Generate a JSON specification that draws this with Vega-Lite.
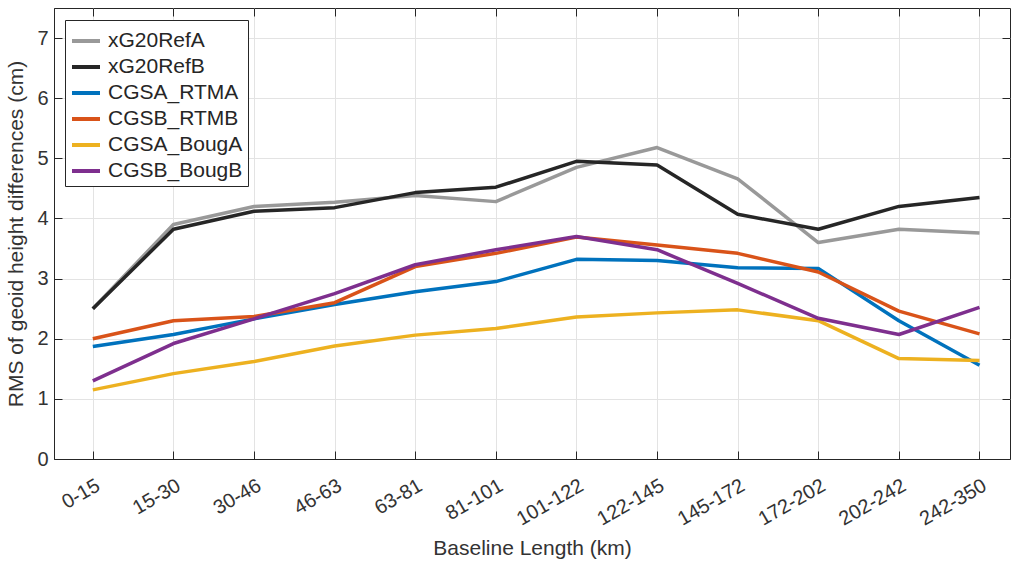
{
  "$schema": "https://vega.github.io/schema/vega-lite/v6.json",
  "autosize": {"type": "none"},
  "padding": {"left": 54, "top": 8, "right": 3, "bottom": 104},
  "width": 956,
  "height": 451,
  "background": "white",
  "config": {
    "font": "Liberation Sans",
    "view": {"stroke": "#262626", "strokeWidth": 1},
    "axis": {
      "labelFont": "Liberation Sans",
      "titleFont": "Liberation Sans",
      "labelColor": "#333333",
      "titleColor": "#333333",
      "labelFontSize": 20,
      "titleFontSize": 21,
      "titleFontWeight": "normal",
      "domainColor": "#262626",
      "tickColor": "#262626",
      "gridColor": "#e3e3e3",
      "gridWidth": 1
    }
  },
  "data": {
    "values": [
      {"band": "0-15", "series": "xG20RefA", "rms": 2.5},
      {"band": "15-30", "series": "xG20RefA", "rms": 3.9},
      {"band": "30-46", "series": "xG20RefA", "rms": 4.2},
      {"band": "46-63", "series": "xG20RefA", "rms": 4.27},
      {"band": "63-81", "series": "xG20RefA", "rms": 4.38},
      {"band": "81-101", "series": "xG20RefA", "rms": 4.28},
      {"band": "101-122", "series": "xG20RefA", "rms": 4.85},
      {"band": "122-145", "series": "xG20RefA", "rms": 5.18},
      {"band": "145-172", "series": "xG20RefA", "rms": 4.66},
      {"band": "172-202", "series": "xG20RefA", "rms": 3.6},
      {"band": "202-242", "series": "xG20RefA", "rms": 3.82},
      {"band": "242-350", "series": "xG20RefA", "rms": 3.76},
      {"band": "0-15", "series": "xG20RefB", "rms": 2.5},
      {"band": "15-30", "series": "xG20RefB", "rms": 3.82},
      {"band": "30-46", "series": "xG20RefB", "rms": 4.12},
      {"band": "46-63", "series": "xG20RefB", "rms": 4.18},
      {"band": "63-81", "series": "xG20RefB", "rms": 4.43},
      {"band": "81-101", "series": "xG20RefB", "rms": 4.52},
      {"band": "101-122", "series": "xG20RefB", "rms": 4.95},
      {"band": "122-145", "series": "xG20RefB", "rms": 4.89},
      {"band": "145-172", "series": "xG20RefB", "rms": 4.07},
      {"band": "172-202", "series": "xG20RefB", "rms": 3.82},
      {"band": "202-242", "series": "xG20RefB", "rms": 4.2},
      {"band": "242-350", "series": "xG20RefB", "rms": 4.35},
      {"band": "0-15", "series": "CGSA_RTMA", "rms": 1.87},
      {"band": "15-30", "series": "CGSA_RTMA", "rms": 2.07},
      {"band": "30-46", "series": "CGSA_RTMA", "rms": 2.33},
      {"band": "46-63", "series": "CGSA_RTMA", "rms": 2.57},
      {"band": "63-81", "series": "CGSA_RTMA", "rms": 2.78},
      {"band": "81-101", "series": "CGSA_RTMA", "rms": 2.95},
      {"band": "101-122", "series": "CGSA_RTMA", "rms": 3.32},
      {"band": "122-145", "series": "CGSA_RTMA", "rms": 3.3},
      {"band": "145-172", "series": "CGSA_RTMA", "rms": 3.18},
      {"band": "172-202", "series": "CGSA_RTMA", "rms": 3.17},
      {"band": "202-242", "series": "CGSA_RTMA", "rms": 2.3},
      {"band": "242-350", "series": "CGSA_RTMA", "rms": 1.56},
      {"band": "0-15", "series": "CGSB_RTMB", "rms": 2.0},
      {"band": "15-30", "series": "CGSB_RTMB", "rms": 2.3},
      {"band": "30-46", "series": "CGSB_RTMB", "rms": 2.37},
      {"band": "46-63", "series": "CGSB_RTMB", "rms": 2.6},
      {"band": "63-81", "series": "CGSB_RTMB", "rms": 3.2},
      {"band": "81-101", "series": "CGSB_RTMB", "rms": 3.42},
      {"band": "101-122", "series": "CGSB_RTMB", "rms": 3.69},
      {"band": "122-145", "series": "CGSB_RTMB", "rms": 3.56},
      {"band": "145-172", "series": "CGSB_RTMB", "rms": 3.42},
      {"band": "172-202", "series": "CGSB_RTMB", "rms": 3.11},
      {"band": "202-242", "series": "CGSB_RTMB", "rms": 2.46},
      {"band": "242-350", "series": "CGSB_RTMB", "rms": 2.08},
      {"band": "0-15", "series": "CGSA_BougA", "rms": 1.15},
      {"band": "15-30", "series": "CGSA_BougA", "rms": 1.42},
      {"band": "30-46", "series": "CGSA_BougA", "rms": 1.62},
      {"band": "46-63", "series": "CGSA_BougA", "rms": 1.88},
      {"band": "63-81", "series": "CGSA_BougA", "rms": 2.06},
      {"band": "81-101", "series": "CGSA_BougA", "rms": 2.17},
      {"band": "101-122", "series": "CGSA_BougA", "rms": 2.36},
      {"band": "122-145", "series": "CGSA_BougA", "rms": 2.43},
      {"band": "145-172", "series": "CGSA_BougA", "rms": 2.48},
      {"band": "172-202", "series": "CGSA_BougA", "rms": 2.3},
      {"band": "202-242", "series": "CGSA_BougA", "rms": 1.67},
      {"band": "242-350", "series": "CGSA_BougA", "rms": 1.64},
      {"band": "0-15", "series": "CGSB_BougB", "rms": 1.3},
      {"band": "15-30", "series": "CGSB_BougB", "rms": 1.92},
      {"band": "30-46", "series": "CGSB_BougB", "rms": 2.33},
      {"band": "46-63", "series": "CGSB_BougB", "rms": 2.75},
      {"band": "63-81", "series": "CGSB_BougB", "rms": 3.23},
      {"band": "81-101", "series": "CGSB_BougB", "rms": 3.48},
      {"band": "101-122", "series": "CGSB_BougB", "rms": 3.7},
      {"band": "122-145", "series": "CGSB_BougB", "rms": 3.48},
      {"band": "145-172", "series": "CGSB_BougB", "rms": 2.92},
      {"band": "172-202", "series": "CGSB_BougB", "rms": 2.34},
      {"band": "202-242", "series": "CGSB_BougB", "rms": 2.07},
      {"band": "242-350", "series": "CGSB_BougB", "rms": 2.52}
    ]
  },
  "resolve": {"axis": {"x": "independent", "y": "independent"}},
  "layer": [
    {
      "mark": {"type": "line", "strokeOpacity": 0},
      "encoding": {
        "x": {
          "field": "band",
          "type": "ordinal",
          "sort": null,
          "scale": {"type": "point", "padding": 0.43, "align": 0.56},
          "axis": {"orient": "top", "labels": false, "title": null, "domain": false, "grid": false, "tickSize": -8}
        },
        "y": {
          "field": "rms",
          "type": "quantitative",
          "scale": {"domain": [0, 7.5], "nice": false},
          "axis": {"orient": "right", "labels": false, "title": null, "domain": false, "grid": false, "tickSize": -8, "values": [0, 1, 2, 3, 4, 5, 6, 7]}
        }
      }
    },
    {
      "mark": {"type": "line", "strokeWidth": 3.5, "strokeJoin": "round"},
      "encoding": {
        "x": {
          "field": "band",
          "type": "ordinal",
          "sort": null,
          "scale": {"type": "point", "padding": 0.43, "align": 0.56},
          "axis": {
            "title": "Baseline Length (km)",
            "labelAngle": -30,
            "tickSize": -8,
            "labelPadding": 24,
            "labelDx": 8,
            "grid": true,
            "titlePadding": 8
          }
        },
        "y": {
          "field": "rms",
          "type": "quantitative",
          "scale": {"domain": [0, 7.5], "nice": false},
          "axis": {
            "title": "RMS of geoid height differences (cm)",
            "values": [0, 1, 2, 3, 4, 5, 6, 7],
            "tickSize": -8,
            "labelPadding": 14,
            "grid": true,
            "titlePadding": 10
          }
        },
        "color": {
          "field": "series",
          "type": "nominal",
          "scale": {
            "domain": ["xG20RefA", "xG20RefB", "CGSA_RTMA", "CGSB_RTMB", "CGSA_BougA", "CGSB_BougB"],
            "range": ["#999999", "#262626", "#0072BD", "#D95319", "#EDB120", "#7E2F8E"]
          },
          "legend": {
            "title": null,
            "orient": "none",
            "legendX": 11,
            "legendY": 12,
            "symbolType": "stroke",
            "symbolSize": 784,
            "symbolStrokeWidth": 4,
            "labelFontSize": 21,
            "labelFont": "Liberation Sans",
            "labelColor": "#262626",
            "labelOffset": 6,
            "rowPadding": 0,
            "padding": 5,
            "strokeColor": "#262626",
            "fillColor": "white"
          }
        }
      }
    }
  ]
}
